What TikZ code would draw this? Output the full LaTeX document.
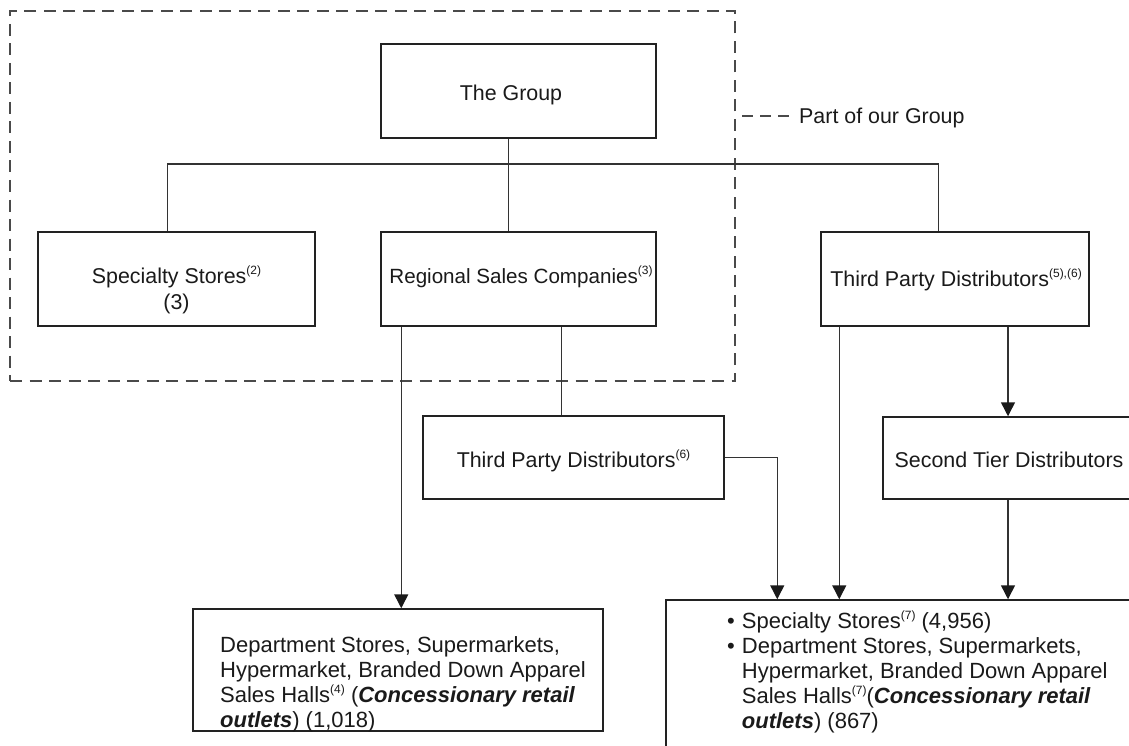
\documentclass[tikz,border=0pt]{standalone}
\usepackage{fontspec}
\setmainfont{Liberation Sans}
\usetikzlibrary{arrows.meta}
\definecolor{ink}{HTML}{1A1A1A}
\definecolor{edge}{HTML}{222222}
\definecolor{wire}{HTML}{333333}
\definecolor{dashc}{HTML}{4A4A4A}
% footnote marks set small and raised
\newcommand{\supn}[1]{\raisebox{9pt}{\fontsize{12}{12}\selectfont(#1)}}
\newcommand{\bi}[1]{\textbf{\textit{#1}}}
\begin{document}
\begin{tikzpicture}[x=1pt,y=-1pt,
  box/.style={draw=edge, line width=1.5pt, inner sep=0pt},
  lbl/.style={anchor=base, inner sep=0pt, text=ink, font=\fontsize{21.4}{26}\selectfont},
  body/.style={anchor=base west, inner sep=0pt, text=ink, font=\fontsize{22}{25}\selectfont},
  conn/.style={draw=wire, line width=1.5pt},
  arr/.style={conn, -{Triangle[width=14pt,length=14pt,color=ink]}},
  grparea/.style={draw=dashc, line width=1.3pt, dash pattern=on 12pt off 7.5pt, inner sep=0pt},
  legdash/.style={draw=dashc, line width=1.3pt, dash pattern=on 11pt off 7pt},
]
\useasboundingbox (0,0) rectangle (1129,746);
\fill[white] (0,0) rectangle (1129,746);
\clip (0,0) rectangle (1129,746);

% boundary of the group's own entities
\node[grparea, minimum width=725pt, minimum height=370pt] (ours) at (372.5,196) {};

% boxes
\node[box, minimum width=275pt, minimum height=94pt] (grp)   at (518.5,91)   {};
\node[box, minimum width=277pt, minimum height=94pt] (ss)    at (176.5,279)  {};
\node[box, minimum width=275pt, minimum height=94pt] (rsc)   at (518.5,279)  {};
\node[box, minimum width=268pt, minimum height=94pt] (tpd)   at (955,279)    {};
\node[box, minimum width=301pt, minimum height=83pt] (tpd6)  at (573.5,457.5) {};
\node[box, minimum width=250pt, minimum height=82pt] (tier2) at (1008,458)   {};
\node[box, minimum width=410pt, minimum height=122pt] (bl)   at (398,670)    {};
\node[box, minimum width=484pt, minimum height=180pt] (br)   at (908,690)    {};

% box texts
\node[lbl] (grp-t)  at (511,101)   {The Group};
\node[lbl] (ss-t1)  at (176.5,283) {Specialty Stores\supn{2}};
\node[lbl] (ss-t2)  at (176.5,309) {(3)};
\node[lbl, font=\fontsize{20.6}{26}\selectfont] (rsc-t) at (521,283) {Regional Sales Companies\supn{3}};
\node[lbl] (tpd-t)  at (956,286)   {Third Party Distributors\supn{5),(6}};
\node[lbl] (tpd6-t) at (573.5,467) {Third Party Distributors\supn{6}};
\node[lbl] (tier2-t) at (1009,467) {Second Tier Distributors};

\node[body] (bl-t) at (220,652) {\begin{tabular}[t]{@{}l@{}}
Department Stores, Supermarkets,\\
Hypermarket, Branded Down Apparel\\
Sales Halls\supn{4} (\bi{Concessionary retail}\\
\bi{outlets}) (1,018)
\end{tabular}};

\node[body] (br-t) at (727,628) {\begin{tabular}[t]{@{}l@{\hspace{7pt}}l@{}}
\textbullet & Specialty Stores\supn{7} (4,956)\\
\textbullet & Department Stores, Supermarkets,\\
 & Hypermarket, Branded Down Apparel\\
 & Sales Halls\supn{7}(\bi{Concessionary retail}\\
 & \bi{outlets}) (867)
\end{tabular}};

% legend
\coordinate (leg-a) at (742,116);
\node[lbl, anchor=base west] (leg) at (799,124) {Part of our Group};
\draw[legdash, shorten >=10pt] (leg-a) -- (leg-a -| leg.west);

% tree below the group
\coordinate (bus) at (0,164);
\coordinate (grp-b) at ([xshift=128pt]grp.south west);
\coordinate (rsc-top) at ([xshift=128pt]rsc.north west);
\coordinate (ss-top) at ([xshift=130pt]ss.north west);
\coordinate (tpd-top) at ([xshift=118pt]tpd.north west);
\draw[conn] (grp-b) -- (rsc-top);
\draw[conn] (ss-top) -- (ss-top |- bus) -| (tpd-top);

% distribution flows
\coordinate (rsc-l) at ([xshift=21pt]rsc.south west);
\coordinate (rsc-r) at ([xshift=181pt]rsc.south west);
\coordinate (tpd-l) at ([xshift=19pt]tpd.south west);
\draw[arr] (rsc-l) -- (rsc-l |- bl.north);
\draw[conn] (rsc-r) -- (rsc-r |- tpd6.north);
\draw[arr] (tpd6.east) -| ([xshift=112pt]br.north west);
\draw[arr] (tpd-l) -- (tpd-l |- br.north);
\draw[arr] (tier2.north |- tpd.south) -- (tier2.north);
\draw[arr] (tier2.south) -- (tier2.south |- br.north);
\end{tikzpicture}
\end{document}
